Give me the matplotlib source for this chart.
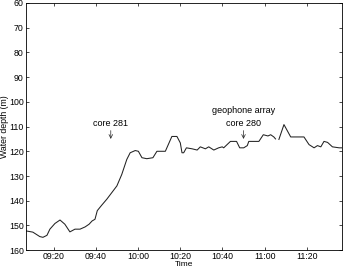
import numpy as np
import pandas as pd
import matplotlib
matplotlib.use("Agg")
import matplotlib.pyplot as plt
import matplotlib.dates as mdates

plt.rcParams['font.family'] = ['Liberation Sans', 'DejaVu Sans']

# minutes after 09:00 and water depth (m); NaN marks the gap in the record
minutes = [6.7, 10.0, 13.3, 14.8, 16.7, 18.1, 20.5, 22.9, 25.2, 27.6, 30.0, 32.4,
           34.8, 36.7, 38.1, 39.5, 40.6, 42.7, 45.1, 47.5, 49.9, 52.2, 54.6, 56.2,
           58.6, 60.1, 61.8, 64.1, 67.0, 68.9, 72.9, 76.0, 78.4, 80.0, 80.8, 81.6,
           82.9, 85.6, 88.0, 89.5, 91.9, 93.5, 95.9, 98.2, 99.9, 100.6, 103.8, 106.7,
           108.2, 110.1, 111.8, 112.5, 117.3, 119.4, 121.6, 122.9, 124.4, 125.2, 126.0,
           126.8, 129.2, 132.4, 138.7, 141.1, 143.5, 145.1, 146.7, 148.2, 149.9, 152.2,
           155.4, 157.0]
depth = [152.2, 152.7, 154.5, 154.8, 154.0, 151.5, 149.2, 147.8, 149.5, 152.6, 151.5, 151.5,
         150.6, 149.5, 148.2, 147.5, 144.0, 141.8, 139.4, 136.7, 134.0, 129.4, 123.3, 120.6,
         119.7, 120.0, 122.6, 123.0, 122.6, 120.0, 120.0, 114.0, 114.0, 116.6, 120.6, 120.6,
         118.6, 119.0, 119.5, 118.2, 119.0, 118.2, 119.5, 118.6, 118.2, 118.6, 116.0, 116.0,
         118.6, 118.6, 117.7, 116.0, 116.0, 113.3, 113.8, 113.3, 114.2, 115.0, np.nan,
         115.2, 109.2, 114.2, 114.2, 117.3, 118.6, 117.7, 118.2, 116.0, 116.4, 118.2,
         118.6, 118.6]

notes = ["core 281", "geophone array\ncore 280"]
note_minutes = [47, 110]

base = pd.Timestamp("2000-01-01 09:00")
t = base + pd.to_timedelta(minutes, unit="min")

fig = plt.figure(figsize=(3.45, 2.69), dpi=100)
ax = fig.add_axes([0.075, 0.07, 0.916, 0.919])
ax.plot(t, depth, color="#222222", lw=0.75)

for txt, m in zip(notes, note_minutes):
    x = base + pd.Timedelta(minutes=m)
    ax.annotate(txt, xy=(x, 115), xytext=(x, 110.5), ha="center", va="bottom",
                fontsize=6.5, linespacing=1.5,
                arrowprops=dict(arrowstyle="->", lw=0.5, color="#222222",
                                shrinkA=0, shrinkB=0))

ax.set_xlim(base + pd.Timedelta(minutes=6.7), base + pd.Timedelta(minutes=156.7))
ax.set_ylim(160, 60)
ax.set_yticks(range(60, 161, 10))
ticks = [base + pd.Timedelta(minutes=m) for m in range(20, 150, 20)]
ax.set_xticks(ticks)
ax.xaxis.set_major_formatter(mdates.DateFormatter("%H:%M"))
ax.tick_params(direction="in", top=True, right=True, labelsize=6.3, length=2.5,
               width=0.5, pad=1.5)
for s in ax.spines.values():
    s.set_linewidth(0.6)
ax.set_xlabel("Time", fontsize=6)
ax.xaxis.set_label_coords(0.5, -0.043)
ax.set_ylabel("Water depth (m)", fontsize=6.3)
ax.yaxis.set_label_coords(-0.052, 0.5)

fig.savefig("out.png", dpi=100)
